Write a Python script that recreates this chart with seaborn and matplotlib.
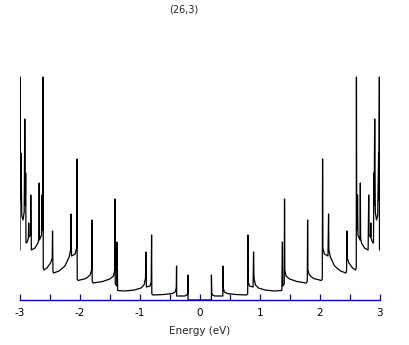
import matplotlib
matplotlib.use("Agg")
import matplotlib.pyplot as plt
import seaborn as sns
import pandas as pd

# ---- data (energy in eV, DOS in arbitrary units) ----
energy_neg = [-3.0, -2.998, -2.99, -2.985, -2.97, -2.95, -2.93, -2.92, -2.91, -2.905,
              -2.90, -2.88, -2.86, -2.855, -2.85, -2.825, -2.82, -2.81, -2.75, -2.70,
              -2.685, -2.68, -2.675, -2.64, -2.633, -2.63, -2.62, -2.615, -2.612, -2.60,
              -2.55, -2.49, -2.462, -2.457, -2.45, -2.44, -2.35, -2.25, -2.18, -2.155,
              -2.15, -2.14, -2.08, -2.055, -2.05, -2.045, -2.03, -1.90, -1.83, -1.805,
              -1.80, -1.795, -1.78, -1.62, -1.50, -1.44, -1.42, -1.415, -1.41, -1.385,
              -1.38, -1.37, -1.25, -1.09, -0.98, -0.93, -0.905, -0.898, -0.89, -0.83,
              -0.81, -0.804, -0.80, -0.78, -0.60, -0.46, -0.41, -0.392, -0.387, -0.385,
              -0.25, -0.215, -0.20, -0.195, -0.195, 0.0]
dos_neg = [50, 223, 100, 147, 84, 80, 88, 181, 95, 127,
           57, 58, 62, 77, 63, 65, 105, 50, 52, 57,
           62, 117, 60, 65, 105, 80, 70, 223, 32, 30,
           32, 37, 42, 69, 29, 27, 29, 34, 43, 50,
           86, 44, 46, 52, 141, 21, 19.5, 21.5, 25, 30,
           80, 19, 17, 18.5, 21, 24, 30, 101, 16, 14,
           58, 9.5, 9, 10, 12, 15, 22, 48, 13, 14,
           18, 65, 6, 5, 5.5, 6.5, 8, 12, 34, 4,
           4, 5, 7, 25, 0, 0]

energy_pos = [0.0, 0.195, 0.195, 0.20, 0.215, 0.25, 0.385, 0.387, 0.392, 0.41,
              0.46, 0.60, 0.78, 0.80, 0.804, 0.81, 0.83, 0.89, 0.898, 0.905,
              0.93, 0.98, 1.09, 1.25, 1.37, 1.38, 1.385, 1.41, 1.415, 1.42,
              1.44, 1.50, 1.62, 1.78, 1.795, 1.80, 1.805, 1.83, 1.90, 2.03,
              2.045, 2.05, 2.055, 2.08, 2.14, 2.15, 2.155, 2.18, 2.25, 2.35,
              2.44, 2.45, 2.457, 2.462, 2.49, 2.55, 2.60, 2.612, 2.615, 2.62,
              2.63, 2.633, 2.64, 2.675, 2.68, 2.685, 2.70, 2.75, 2.81, 2.82,
              2.825, 2.85, 2.855, 2.86, 2.88, 2.90, 2.905, 2.91, 2.92, 2.93,
              2.95, 2.97, 2.985, 2.99, 2.998, 3.0]
dos_pos = [0, 0, 25, 7, 5, 4, 4, 34, 12, 8,
           6.5, 5.5, 5, 6, 65, 18, 14, 13, 48, 22,
           15, 12, 10, 9, 9.5, 58, 14, 16, 101, 30,
           24, 21, 18.5, 17, 19, 80, 30, 25, 21.5, 19.5,
           21, 141, 52, 46, 44, 86, 50, 43, 34, 29,
           27, 29, 69, 42, 37, 32, 30, 32, 223, 70,
           80, 105, 65, 60, 117, 62, 57, 52, 50, 105,
           65, 63, 77, 62, 58, 57, 127, 95, 181, 88,
           80, 84, 147, 100, 223, 50]

tick_values = [-3, -2, -1, 0, 1, 2, 3]
tick_labels = ["-3", "-2", "-1", "0", "1", "2", "3"]
minor_ticks = [-2.5, -1.5, -0.5, 0.5, 1.5, 2.5]
title_text = "(26,3)"
xlabel_text = "Energy (eV)"

df = pd.DataFrame({
    "energy": energy_neg + energy_pos,
    "dos": dos_neg + dos_pos,
})

sns.set_style("white")
plt.rcParams["font.family"] = ["DejaVu Sans"]

W, H = 409, 345
fig = plt.figure(figsize=(W / 100, H / 100), dpi=100)
ax = fig.add_axes([20 / W, 45 / H, 359.5 / W, 230 / H])

sns.lineplot(data=df, x="energy", y="dos", ax=ax, color="black", linewidth=0.9,
             estimator=None, sort=False)

ax.set_xlim(-3, 3)
ax.set_ylim(0, 230)
for s in ["top", "left", "right"]:
    ax.spines[s].set_visible(False)
ax.spines["bottom"].set_color("#0000cc")
ax.spines["bottom"].set_linewidth(1.0)
ax.set_yticks([])
ax.set_xticks(tick_values)
ax.set_xticklabels(tick_labels)
ax.set_xticks(minor_ticks, minor=True)
ax.tick_params(axis="x", which="both", bottom=True, direction="in", length=4,
               width=0.9, color="#0000cc", labelsize=7.5, pad=6,
               labelcolor="black")
ax.set_xlabel("")
ax.set_ylabel("")
ax.patch.set_alpha(0)

fig.text(200 / W, 1 - 331 / H, xlabel_text, ha="center", va="center", fontsize=7.5)
fig.text(184 / W, 1 - 10 / H, title_text, ha="center", va="center", fontsize=7)

fig.savefig("out.png", dpi=100, facecolor="white")
